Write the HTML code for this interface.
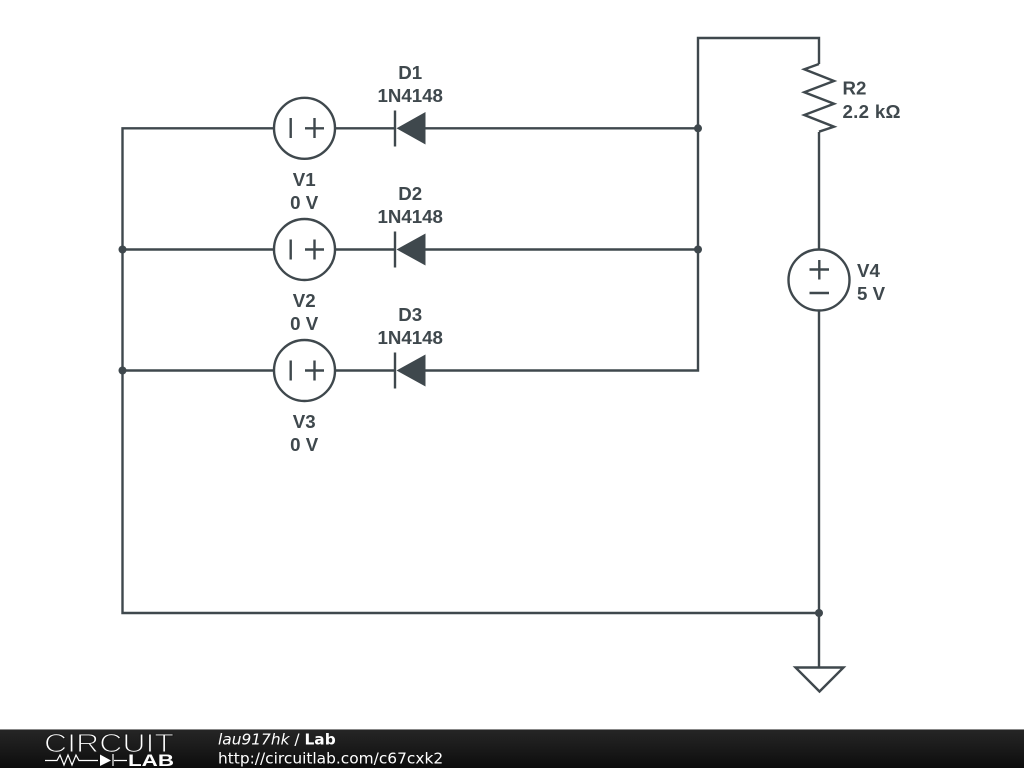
<!DOCTYPE html>
<html>
<head>
<meta charset="utf-8">
<title>Lab</title>
<style>
html,body{margin:0;padding:0;background:#fff;width:1024px;height:768px;overflow:hidden}
svg{display:block;position:absolute;left:0;top:0}
.w{fill:none;stroke:#3f484d;stroke-width:2.4;stroke-linejoin:miter}
.l{font:bold 18.7px "Liberation Sans",sans-serif;fill:#3f484d;text-anchor:middle}
.s{font:bold 18.7px "Liberation Sans",sans-serif;fill:#3f484d}
.f{font-family:"DejaVu Sans",sans-serif;font-size:15.4px;fill:#fff}
</style>
</head>
<body>
<svg width="1024" height="768" viewBox="0 0 1024 768" xmlns="http://www.w3.org/2000/svg">
<defs>
<linearGradient id="g" x1="0" y1="0" x2="0" y2="1">
<stop offset="0" stop-color="#262626"/><stop offset="0.5" stop-color="#1a1a1a"/><stop offset="1" stop-color="#0c0c0c"/>
</linearGradient>
</defs>
<rect width="1024" height="768" fill="#fff"/>

<!-- main wiring -->
<path class="w" d="M819 64V38H698V370.5H425"/>
<path class="w" d="M819 132V250M819 310V667"/>
<path class="w" d="M274 128.300H122.500V613H819"/>
<path class="w" d="M122.500 249.500H274M122.500 370.500H274"/>
<path class="w" d="M335 128.300H396M335 249.500H396M335 370.500H396"/>
<path class="w" d="M425 128.300H698M425 249.500H698"/>

<!-- resistor -->
<path class="w" d="M819 64L804.300 69.300L834 81L804.300 92.300L834 103.700L804.300 115L834 126.700L819 131.700"/>

<!-- sources V1..V3 -->
<g class="w">
<circle cx="304.500" cy="128.300" r="30.500"/>
<path d="M290.700 118V138M305 128.300H324M314.500 118V138"/>
<circle cx="304.500" cy="249.500" r="30.500"/>
<path d="M290.700 239.500V259.500M305 249.500H324M314.500 239.500V259.500"/>
<circle cx="304.500" cy="370.500" r="30.500"/>
<path d="M290.700 360.500V380.500M305 370.500H324M314.500 360.500V380.500"/>
<circle cx="819" cy="280" r="30.500"/>
<path d="M809.500 269.500H829M819.300 260V279.500M809.500 293H829"/>
</g>

<!-- diodes -->
<g>
<path class="w" d="M395 110.500V146.500M395 231.500V267.500M395 352.500V388.500"/>
<path d="M396.500 128.300L425.500 112V144.500Z M396.500 249.500L425.500 233.500V265.500Z M396.500 370.500L425.500 354.500V386.500Z" fill="#3f484d"/>
</g>

<!-- junctions -->
<g fill="#3f484d">
<circle cx="698" cy="128.300" r="4"/>
<circle cx="698" cy="249.500" r="4"/>
<circle cx="122.500" cy="249.500" r="4"/>
<circle cx="122.500" cy="370.500" r="4"/>
<circle cx="819" cy="613" r="4"/>
</g>

<!-- ground -->
<path class="w" d="M795.500 667.500H843.500L819.500 691.500Z"/>

<!-- labels -->
<text class="l" x="410.200" y="79">D1</text>
<text class="l" x="410.200" y="102">1N4148</text>
<text class="l" x="410.200" y="200">D2</text>
<text class="l" x="410.200" y="223">1N4148</text>
<text class="l" x="410.200" y="321">D3</text>
<text class="l" x="410.200" y="344">1N4148</text>
<text class="l" x="304.200" y="186">V1</text>
<text class="l" x="304.200" y="209">0 V</text>
<text class="l" x="304.200" y="307">V2</text>
<text class="l" x="304.200" y="330">0 V</text>
<text class="l" x="304.200" y="428">V3</text>
<text class="l" x="304.200" y="451">0 V</text>
<text class="s" x="842.500" y="94.500">R2</text>
<text class="s" x="842.500" y="118" textLength="58">2.2 kΩ</text>
<text class="s" x="857" y="277">V4</text>
<text class="s" x="857" y="300">5 V</text>

<!-- footer -->
<rect x="0" y="729" width="1024" height="39" fill="url(#g)"/>
<rect x="0" y="729" width="1024" height="1" fill="#888"/>
<text x="44" y="752" font-family="Liberation Sans,sans-serif" font-size="26" textLength="130" lengthAdjust="spacingAndGlyphs" fill="#fff" stroke="#1c1c1c" stroke-width="1.100">CIRCUIT</text>
<path d="M45 760.500H57L60 755L64 765L68 755L72 765L76 755L79 760.500H98M114 760.500H127M113 754V766" fill="none" stroke="#fff" stroke-width="1.200"/>
<path d="M100 754.500L111 760.500L100 766Z" fill="#fff"/>
<text x="128" y="766" font-family="Liberation Sans,sans-serif" font-size="16.500" font-weight="bold" textLength="46" lengthAdjust="spacingAndGlyphs" fill="#fff">LAB</text>
<text class="f" x="218" y="744.500"><tspan font-style="italic">lau917hk</tspan> / <tspan font-weight="bold">Lab</tspan></text>
<text class="f" x="218" y="763.500">http://circuitlab.com/c67cxk2</text>
</svg>
</body>
</html>
